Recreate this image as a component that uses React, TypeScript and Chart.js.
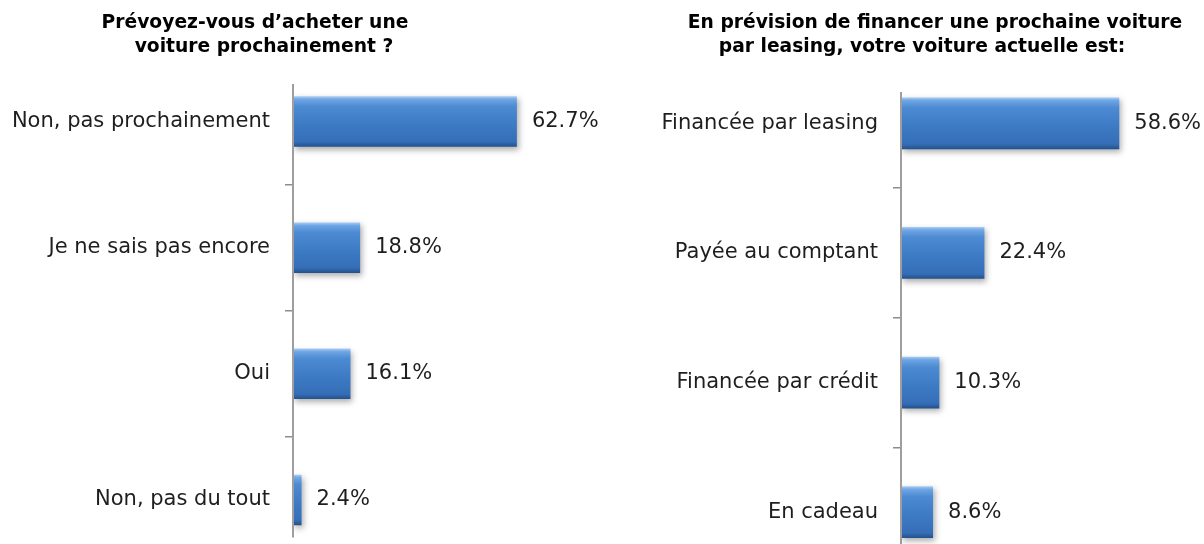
import React, { useEffect, useRef } from "react";
import { Chart, registerables } from "chart.js";

Chart.register(...registerables);

// ---------- data ----------
const leftTitleLines = ["Prévoyez-vous d’acheter une", "voiture prochainement ?"];
const leftCategories = ["Non, pas prochainement", "Je ne sais pas encore", "Oui", "Non, pas du tout"];
const leftValues = [62.7, 18.8, 16.1, 2.4];

const rightTitleLines = ["En prévision de financer une prochaine voiture", "par leasing, votre voiture actuelle est:"];
const rightCategories = ["Financée par leasing", "Payée au comptant", "Financée par crédit", "En cadeau"];
const rightValues = [58.6, 22.4, 10.3, 8.6];

// ---------- style ----------
const FONT = "'DejaVu Sans', sans-serif";
const LABEL_SIZE = 21;
const BAR_PCT = 0.4;

function barFill(ctx: any) {
  const chart = ctx.chart;
  const y = chart.scales && chart.scales.y;
  if (ctx.type !== "data" || !y || !chart.chartArea) return "#3f7cc6";
  const n = chart.data.labels.length;
  const band = (y.bottom - y.top) / n;
  const h = band * BAR_PCT;
  const c = y.getPixelForValue(ctx.dataIndex);
  const g = chart.ctx.createLinearGradient(0, c - h / 2, 0, c + h / 2);
  g.addColorStop(0, "#a9cdf4");
  g.addColorStop(0.06, "#6fa6e4");
  g.addColorStop(0.2, "#4c8ad2");
  g.addColorStop(0.55, "#3e7bc5");
  g.addColorStop(0.9, "#356eb7");
  g.addColorStop(1, "#23508a");
  return g;
}

type Props = {
  labels: string[];
  values: number[];
  left: number;
  width: number;
  height: number;
  axisWidth: number;
  xMax: number;
  padRight: number;
  axisInsetTop: number;
  axisInsetBottom: number;
};

function BarChart(p: Props) {
  const ref = useRef<HTMLCanvasElement>(null);
  useEffect(() => {
    const canvas = ref.current!;
    const decor = {
      id: "decor",
      beforeDatasetsDraw(chart: any) {
        const c = chart.ctx;
        c.save();
        c.shadowColor = "rgba(0,0,0,0.32)";
        c.shadowBlur = 6;
        c.shadowOffsetX = 2;
        c.shadowOffsetY = 3;
      },
      afterDatasetsDraw(chart: any) {
        const c = chart.ctx;
        c.restore();
        const area = chart.chartArea;
        // axis line
        c.save();
        c.strokeStyle = "#9e9e9e";
        c.lineWidth = 2;
        c.beginPath();
        c.moveTo(area.left, area.top + p.axisInsetTop);
        c.lineTo(area.left, area.bottom - p.axisInsetBottom);
        c.stroke();
        c.restore();
        // value labels
        const meta = chart.getDatasetMeta(0);
        c.save();
        c.font = `${LABEL_SIZE}px ${FONT}`;
        c.fillStyle = "#1e1e1e";
        c.textAlign = "left";
        c.textBaseline = "middle";
        meta.data.forEach((el: any, i: number) => {
          c.fillText(p.values[i].toFixed(1) + "%", el.x + 15, el.y);
        });
        c.restore();
      },
    };
    const chart = new Chart(canvas, {
      type: "bar",
      data: {
        labels: p.labels,
        datasets: [
          {
            data: p.values,
            backgroundColor: barFill as any,
            borderWidth: 0,
            barPercentage: BAR_PCT,
            categoryPercentage: 1,
          },
        ],
      },
      options: {
        indexAxis: "y",
        responsive: false,
        animation: false,
        layout: { padding: { top: 58.5, right: p.padRight, bottom: 0, left: 0 } },
        plugins: {
          legend: { display: false },
          tooltip: { enabled: false },
          title: { display: false },
        },
        scales: {
          x: { display: false, min: 0, max: p.xMax },
          y: {
            afterFit: (s: any) => {
              s.width = p.axisWidth;
              s.paddingTop = 0;
              s.paddingBottom = 0;
            },
            grid: {
              offset: true,
              drawOnChartArea: false,
              drawTicks: true,
              tickLength: 8,
              lineWidth: 1.5,
              color: (ctx: any) =>
                ctx.type === "tick" && ctx.index > 0 ? "#8c8c8c" : "rgba(0,0,0,0)",
            },
            border: { display: false },
            ticks: {
              color: "#1e1e1e",
              padding: 15,
              font: { family: FONT, size: LABEL_SIZE },
            },
          },
        },
      } as any,
      plugins: [decor],
    });
    return () => chart.destroy();
  }, []);
  return (
    <canvas
      ref={ref}
      width={p.width}
      height={p.height}
      style={{ position: "absolute", left: p.left, top: 0, width: p.width, height: p.height }}
    />
  );
}

function TitleLine({ text, center, baseline }: { text: string; center: number; baseline: number }) {
  const size = 18.7;
  return (
    <div
      style={{
        position: "absolute",
        left: center - 300,
        width: 600,
        top: baseline - 15.8,
        textAlign: "center",
        whiteSpace: "pre",
        fontFamily: FONT,
        fontWeight: "bold",
        fontSize: size,
        lineHeight: `${size}px`,
        color: "#000",
      }}
    >
      {text}
    </div>
  );
}

export default function App() {
  return (
    <div
      style={{
        position: "absolute",
        left: 0,
        top: 0,
        width: 1204,
        height: 544,
        overflow: "hidden",
        background: "#fff",
      }}
    >
      <BarChart
        labels={leftCategories}
        values={leftValues}
        left={0}
        width={600}
        height={563}
        axisWidth={293}
        xMax={85}
        padRight={3.5}
        axisInsetTop={25.5}
        axisInsetBottom={25.5}
      />
      <BarChart
        labels={rightCategories}
        values={rightValues}
        left={600}
        width={604}
        height={577}
        axisWidth={301}
        xMax={80}
        padRight={5}
        axisInsetTop={33.5}
        axisInsetBottom={30}
      />
      <TitleLine text={leftTitleLines[0]} center={255} baseline={29} />
      <TitleLine text={leftTitleLines[1]} center={264} baseline={53} />
      <TitleLine text={rightTitleLines[0]} center={935} baseline={29} />
      <TitleLine text={rightTitleLines[1]} center={922} baseline={53} />
    </div>
  );
}
